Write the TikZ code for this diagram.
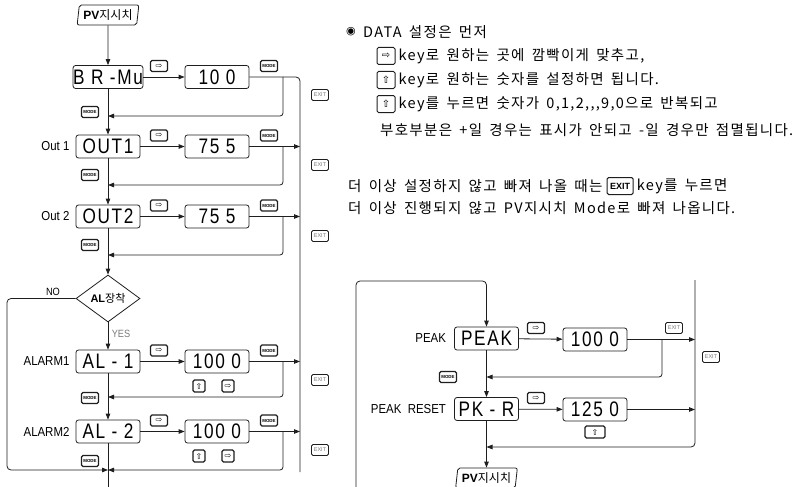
\documentclass[tikz,border=0pt]{standalone}
\usepackage{fontspec}
\setmainfont{Liberation Sans}
\newfontfamily\krfont{Noto Sans CJK KR}
\newfontfamily\krtext[LetterSpace=9,WordSpace=1.6]{Noto Sans CJK KR}
\newfontfamily\symfont{DejaVu Sans}
\newfontfamily\segfont[FakeStretch=0.82,LetterSpace=8]{Liberation Sans}
\newfontfamily\lblfont[FakeStretch=0.88]{Liberation Sans}
\definecolor{Ink}{HTML}{1E1E1E}
\definecolor{GrayMid}{HTML}{7A7A7A}
\usetikzlibrary{arrows.meta, positioning, shapes.geometric}
\tikzset{
  disp/.style={
    rectangle, rounded corners=2.5pt, draw=Ink, line width=0.8pt,
    minimum width=64pt, minimum height=23pt, inner sep=0pt,
    font=\segfont\fontsize{21}{21}\selectfont
  },
  pvbox/.style={
    trapezium, trapezium left angle=80, trapezium right angle=100,
    trapezium stretches=true, rounded corners=2pt, draw=Ink, line width=0.8pt,
    minimum width=62pt, minimum height=20pt, inner sep=0pt,
    font=\fontsize{12}{12}\selectfont
  },
  key/.style={
    rectangle, rounded corners=1.5pt, draw=Ink, line width=1.1pt, fill=white,
    minimum width=#1, minimum height=11pt, inner sep=0pt,
    font=\symfont\fontsize{8}{8}\selectfont
  },
  key/.default=17pt,
  mode/.style={key, font=\fontsize{4.4}{5}\selectfont\bfseries},
  exitkey/.style={key, line width=0.9pt, font=\fontsize{5.5}{6}\selectfont\color{GrayMid}},
  tkey/.style={key=18pt, minimum height=17pt, line width=1pt, font=\symfont\fontsize{10}{10}\selectfont},
  lbl/.style={font=\lblfont\fontsize{13}{13}\selectfont, inner sep=0pt},
  txt/.style={font=\krtext\fontsize{14.5}{16}\selectfont, inner sep=0pt, anchor=west},
  arr/.style={-{Triangle[length=6pt,width=4.5pt]}, line width=0.8pt, draw=Ink},
  ln/.style={line width=0.8pt, draw=Ink},
}
\begin{document}
\begin{tikzpicture}[x=1pt, y=-1pt]
\useasboundingbox (0,0) rectangle (803,487);

% Left flow: PV -> BR-Mu -> Out -> AL
\node[pvbox] at (108,15) (pvA) {\textbf{PV}{\krfont 지시치}};
\node[disp] at (108,77) (brmu) {B R -Mu};
\node[disp] at (217,77) (brmuV) {10 0};
\node[disp] at (108,146.5) (out1) {OUT1};
\node[lbl, left=6pt of out1] (out1L) {Out 1};
\node[disp] at (217,146.5) (out1V) {75 5};
\node[disp] at (108,216.5) (out2) {OUT2};
\node[lbl, left=6pt of out2] (out2L) {Out 2};
\node[disp] at (217,216.5) (out2V) {75 5};
\node[diamond, draw=Ink, line width=0.8pt, minimum width=64pt, minimum height=47pt,
  inner sep=0pt, font=\fontsize{11}{11}\selectfont] at (108,298.5) (alQ) {\textbf{AL}{\krfont 장착}};
\node[lbl, font=\lblfont\fontsize{10.5}{10.5}\selectfont] at (53,292) (noL) {NO};
\node[lbl, font=\lblfont\fontsize{10.5}{10.5}\selectfont, text=GrayMid] at (121,334) (yesL) {YES};
\node[disp] at (108,361.5) (al1) {AL - 1};
\node[lbl, left=6pt of al1] (al1L) {ALARM1};
\node[disp] at (217,361.5) (al1V) {100 0};
\node[disp] at (108,431.5) (al2) {AL - 2};
\node[lbl, left=6pt of al2] (al2L) {ALARM2};
\node[disp] at (217,431.5) (al2V) {100 0};

% keys of the left flow
\node[key] at (159,66) (kR0) {⇨};
\node[key] at (159,135.5) (kR1) {⇨};
\node[key] at (159,205.5) (kR2) {⇨};
\node[key] at (159,350.5) (kR3) {⇨};
\node[key] at (159,420.5) (kR4) {⇨};
\node[mode] at (269,66) (kM0) {MODE};
\node[mode] at (269,135.5) (kM1) {MODE};
\node[mode] at (269,205.5) (kM2) {MODE};
\node[mode] at (269,350.5) (kM3) {MODE};
\node[mode] at (269,420.5) (kM4) {MODE};
\node[mode] at (90,112) (kL0) {MODE};
\node[mode] at (90,175) (kL1) {MODE};
\node[mode] at (90,245) (kL2) {MODE};
\node[mode] at (90,398) (kL3) {MODE};
\node[mode] at (90,461) (kL4) {MODE};
\node[key=12pt, minimum height=12pt] at (199,386) (kU3) {⇧};
\node[key=12pt, minimum height=12pt] at (228,386) (kS3) {⇨};
\node[key=12pt, minimum height=12pt] at (199,456) (kU4) {⇧};
\node[key=12pt, minimum height=12pt] at (228,456) (kS4) {⇨};
\node[exitkey] at (320,95) (kE0) {EXIT};
\node[exitkey] at (320,165) (kE1) {EXIT};
\node[exitkey] at (320,236) (kE2) {EXIT};
\node[exitkey] at (320,380) (kE3) {EXIT};
\node[exitkey] at (320,450) (kE4) {EXIT};

% junctions
\coordinate (exT) at (300,77);
\coordinate (exB) at (300,472);
\coordinate (jx) at (283,0);
\coordinate (ret0) at (108,116);
\coordinate (ret1) at (108,185);
\coordinate (ret2) at (108,255);
\coordinate (ret3) at (108,397);
\coordinate (mrg) at (108,470);
\coordinate (noC) at (7,470);
\coordinate (endL) at (108,487);

\draw[arr] (pvA) -- (brmu);
\draw[arr] (brmu) -- (brmuV);
\draw[ln, rounded corners=4pt] (brmuV.east) -- (exT) -- (exB);
\draw[arr, rounded corners=3pt] (brmuV.east -| jx) |- (ret0);
\draw[arr] (brmu) -- (out1);
\draw[arr] (out1) -- (out1V);
\draw[arr] (out1V) -- (out1V -| exT);
\draw[arr, rounded corners=3pt] (out1V.east -| jx) |- (ret1);
\draw[arr] (out1) -- (out2);
\draw[arr] (out2) -- (out2V);
\draw[arr] (out2V) -- (out2V -| exT);
\draw[arr, rounded corners=3pt] (out2V.east -| jx) |- (ret2);
\draw[arr] (out2) -- (alQ);
\draw[arr] (alQ) -- (al1);
\draw[arr, rounded corners=4pt] (alQ.west) -| (noC) -- (mrg);
\draw[arr] (al1) -- (al1V);
\draw[arr] (al1V) -- (al1V -| exT);
\draw[arr, rounded corners=3pt] (al1V.east -| jx) |- (ret3);
\draw[arr] (al1) -- (al2);
\draw[arr] (al2) -- (al2V);
\draw[arr] (al2V) -- (al2V -| exT);
\draw[arr, rounded corners=3pt] (al2V.east -| jx) |- (mrg);
\draw[ln] (al2) -- (endL);

% DATA notes
\node[font=\symfont\fontsize{11}{11}\selectfont, inner sep=0pt] at (351,32) (bullet) {◉};
\node[txt] at (363,32) (l1) {DATA 설정은 먼저};
\node[tkey] at (386,56) (k1) {⇨};
\node[txt, right=3pt of k1] (l2) {key로 원하는 곳에 깜빡이게 맞추고,};
\node[tkey] at (386,80) (k2) {⇧};
\node[txt, right=3pt of k2] (l3) {key로 원하는 숫자를 설정하면 됩니다.};
\node[tkey] at (386,104) (k3) {⇧};
\node[txt, right=3pt of k3] (l4) {key를 누르면 숫자가 0,1,2,,,9,0으로 반복되고};
\node[txt] at (380,130) (l5) {부호부분은 +일 경우는 표시가 안되고 -일 경우만 점멸됩니다.};
\node[txt] at (348,186) (l6) {더 이상 설정하지 않고 빠져 나올 때는};
\node[tkey, minimum width=26pt, font=\fontsize{9}{9}\selectfont\bfseries, right=4pt of l6] (kx) {EXIT};
\node[txt, right=3pt of kx] (l6b) {key를 누르면};
\node[txt] at (348,208) (l7) {더 이상 진행되지 않고 PV지시치 Mode로 빠져 나옵니다.};

% PEAK flow
\node[disp] at (486.5,338.5) (peak) {PEAK};
\node[lbl, left=8pt of peak] (peakL) {PEAK};
\node[disp] at (595,339.5) (peakV) {100 0};
\node[disp] at (486.5,409) (pkr) {PK - R};
\node[lbl, left=8pt of pkr] (pkrL) {PEAK\ \ RESET};
\node[disp] at (595,409.5) (pkrV) {125 0};
\node[pvbox] at (486.5,478) (pvB) {\textbf{PV}{\krfont 지시치}};
\node[key] at (536,328) (kP0) {⇨};
\node[key] at (536,398) (kP1) {⇨};
\node[exitkey] at (674,328) (kPE) {EXIT};
\node[mode] at (448,377) (kPM) {MODE};
\node[key=20pt, minimum height=12pt] at (595,432) (kPU) {⇧};
\node[exitkey] at (711,357) (kPX) {EXIT};

\coordinate (lpB) at (356,487);
\coordinate (lpT) at (356,281);
\coordinate (rxT) at (695,280);
\coordinate (rxB) at (695,447);
\coordinate (jx2) at (662,0);
\coordinate (retP) at (486.5,377);

\draw[arr, rounded corners=4pt] (lpB) -- (lpT) -| (peak);
\draw[arr] (peak) -- (peakV);
\draw[arr] (peakV) -- (peakV -| rxT);
\draw[arr, rounded corners=3pt] (peakV.east -| jx2) |- (retP);
\draw[arr] (peak) -- (pkr);
\draw[arr] (pkr) -- (pkrV);
\draw[arr] (pkrV) -- (pkrV -| rxT);
\draw[arr, rounded corners=4pt] (rxT) -- (rxB) -- (rxB -| pkr);
\draw[arr] (pkr) -- (pvB);

\end{tikzpicture}
\end{document}
